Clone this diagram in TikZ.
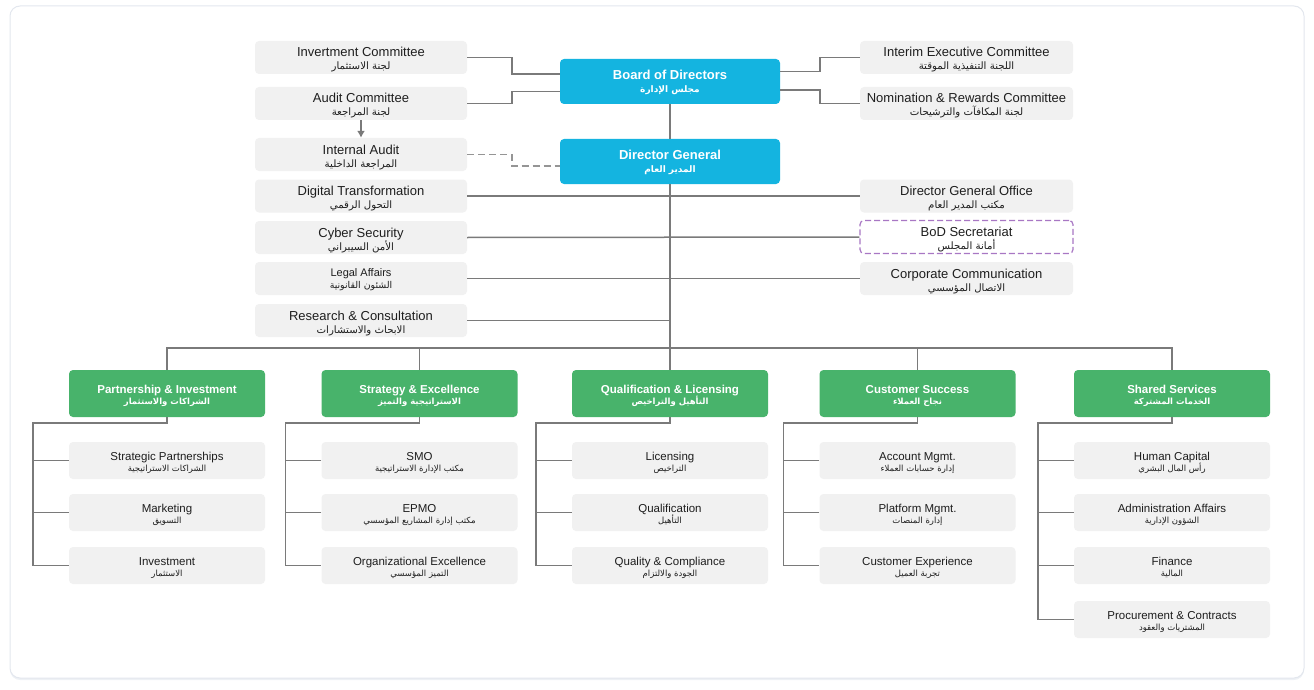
\documentclass[tikz,border=0pt]{standalone}
\usepackage{fontspec}
\setmainfont{Liberation Sans}
\newfontfamily\arabicfont[Script=Arabic]{DejaVu Sans}
\TeXXeTstate=1
\usetikzlibrary{calc,arrows.meta}
\definecolor{boxgrey}{HTML}{F1F1F1}
\definecolor{linegrey}{HTML}{7A7A7A}
\definecolor{blueb}{HTML}{14B4E0}
\definecolor{greenb}{HTML}{48B36B}
\definecolor{purp}{HTML}{A877C4}
\definecolor{cardline}{HTML}{E3E7EE}
\definecolor{txt}{HTML}{1E1E1E}
\def\arsz{10}\def\lnA{12pt}
\newcommand\tl[2]{\rule{0pt}{\lnA}#1\\\smash{\arabicfont\fontsize{\arsz}{\arsz}\selectfont #2}}
\begin{document}
\begin{tikzpicture}[x=1pt,y=-1pt,
  base/.style={align=center,inner sep=0pt,rounded corners=4pt,text=txt},
  gbox/.style={base,fill=boxgrey,minimum width=212pt,minimum height=33pt,font=\fontsize{13}{13}\selectfont\def\arsz{10.2}\def\lnA{12pt}},
  rbox/.style={gbox,minimum width=213pt},
  bbox/.style={base,fill=blueb,text=white,minimum width=220pt,minimum height=45pt,font=\bfseries\fontsize{13}{13.4}\selectfont\def\arsz{9}\def\lnA{9pt}},
  hbox/.style={base,fill=greenb,text=white,minimum width=196pt,minimum height=47pt,font=\bfseries\fontsize{11.5}{11}\selectfont\def\arsz{8.5}\def\lnA{10pt}},
  cbox/.style={base,fill=boxgrey,minimum width=196pt,minimum height=37pt,font=\fontsize{11.5}{10.8}\selectfont\def\arsz{8.5}\def\lnA{10.8pt}},
  conn/.style={draw=linegrey,line width=1.5pt},
  dconn/.style={conn,draw=linegrey!80,dash pattern=on 7pt off 4pt},
]
\useasboundingbox (0,0) rectangle (1314,690);
% card
\fill[rounded corners=10pt,fill=cardline!60] (10,7.5) rectangle (1304,680);
\draw[rounded corners=10pt,draw=cardline,fill=white,line width=1pt] (10,6) rectangle (1304,678);

% top left column
\node[gbox] (inv) at (361,57.5) {\tl{Invertment Committee}{\beginR لجنة الاستثمار\endR}};
\node[gbox] (aud) at (361,103.5) {\tl{Audit Committee}{\beginR لجنة المراجعة\endR}};
\node[gbox] (ia) at (361,154.5) {\tl{Internal Audit}{\beginR المراجعة الداخلية\endR}};
\node[gbox] (dt) at (361,196) {\tl{Digital Transformation}{\beginR التحول الرقمي\endR}};
\node[gbox] (cy) at (361,237.5) {\tl{Cyber Security}{\beginR الأمن السيبراني\endR}};
\node[gbox,font=\fontsize{11}{12.5}\selectfont\def\arsz{9.4}\def\lnA{7pt}] (la) at (361,278.5) {\tl{Legal Affairs}{\beginR الشئون القانونية\endR}};
\node[gbox] (rc) at (361,320.5) {\tl{Research \& Consultation}{\beginR الابحاث والاستشارات\endR}};

% right column
\node[rbox] (iec) at (966.5,57.5) {\tl{Interim Executive Committee}{\beginR اللجنة التنفيذية الموقتة\endR}};
\node[rbox] (nrc) at (966.5,103.5) {\tl{Nomination \& Rewards Committee}{\beginR لجنة المكافآت والترشيحات\endR}};
\node[rbox] (dgo) at (966.5,196) {\tl{Director General Office}{\beginR مكتب المدير العام\endR}};
\node[rbox,fill=white,draw=purp,line width=1.2pt,dash pattern=on 6pt off 3pt] (bods) at (966.5,237) {\tl{BoD Secretariat}{\beginR أمانة المجلس\endR}};
\node[rbox] (cc) at (966.5,278.5) {\tl{Corporate Communication}{\beginR الاتصال المؤسسي\endR}};

% blue
\node[bbox] (bod) at (670,81.5) {\tl{Board of Directors}{\beginR مجلس الإدارة\endR}};
\node[bbox] (dg) at (670,161.5) {\tl{Director General}{\beginR المدير العام\endR}};

% headers
\node[hbox] (h1) at (167,393.5) {\tl{Partnership \& Investment}{\beginR الشراكات والاستثمار\endR}};
\node[hbox] (h2) at (419.5,393.5) {\tl{Strategy \& Excellence}{\beginR الاستراتيجية والتميز\endR}};
\node[hbox] (h3) at (670,393.5) {\tl{Qualification \& Licensing}{\beginR التأهيل والتراخيص\endR}};
\node[hbox] (h4) at (917.5,393.5) {\tl{Customer Success}{\beginR نجاح العملاء\endR}};
\node[hbox] (h5) at (1172,393.5) {\tl{Shared Services}{\beginR الخدمات المشتركة\endR}};

% children
\node[cbox] (a1) at (167,460.5) {\tl{Strategic Partnerships}{\beginR الشراكات الاستراتيجية\endR}};
\node[cbox] (a2) at (167,512.5) {\tl{Marketing}{\beginR التسويق\endR}};
\node[cbox] (a3) at (167,565.5) {\tl{Investment}{\beginR الاستثمار\endR}};
\node[cbox] (b1) at (419.5,460.5) {\tl{SMO}{\beginR مكتب الإدارة الاستراتيجية\endR}};
\node[cbox] (b2) at (419.5,512.5) {\tl{EPMO}{\beginR مكتب إدارة المشاريع المؤسسي\endR}};
\node[cbox] (b3) at (419.5,565.5) {\tl{Organizational Excellence}{\beginR التميز المؤسسي\endR}};
\node[cbox] (c1) at (670,460.5) {\tl{Licensing}{\beginR التراخيص\endR}};
\node[cbox] (c2) at (670,512.5) {\tl{Qualification}{\beginR التأهيل\endR}};
\node[cbox] (c3) at (670,565.5) {\tl{Quality \& Compliance}{\beginR الجودة والالتزام\endR}};
\node[cbox] (d1) at (917.5,460.5) {\tl{Account Mgmt.}{\beginR إدارة حسابات العملاء\endR}};
\node[cbox] (d2) at (917.5,512.5) {\tl{Platform Mgmt.}{\beginR إدارة المنصات\endR}};
\node[cbox] (d3) at (917.5,565.5) {\tl{Customer Experience}{\beginR تجربة العميل\endR}};
\node[cbox] (e1) at (1172,460.5) {\tl{Human Capital}{\beginR رأس المال البشري\endR}};
\node[cbox] (e2) at (1172,512.5) {\tl{Administration Affairs}{\beginR الشؤون الإدارية\endR}};
\node[cbox] (e3) at (1172,565.5) {\tl{Finance}{\beginR المالية\endR}};
\node[cbox] (e4) at (1172,619.5) {\tl{Procurement \& Contracts}{\beginR المشتريات والعقود\endR}};

% connectors top
\draw[conn] (inv.east) -- ++(45,0) |- ($(bod.west)+(0,-7.5)$);
\draw[conn] (aud.east) -- ++(45,0) |- ($(bod.west)+(0,10)$);
\draw[conn] ($(bod.east)+(0,-10)$) -- ++(40,0) |- (iec.west);
\draw[conn] ($(bod.east)+(0,8.5)$) -- ++(40,0) |- (nrc.west);
\draw[conn,-{Latex[length=7pt,width=8pt]}] (aud.south) -- (ia.north);
\draw[dconn] (ia.east) -- ++(45,0) |- ($(dg.west)+(0,4.5)$);
\draw[conn] (bod.south) -- (dg.north);
\coordinate (bus) at (670,348);
\draw[conn] (dg.south) -- (bus);
\draw[conn] (dt.east) -- (dgo.west);
\draw[conn] (cy.east) -- (bods.west);
\draw[conn] (la.east) -- (cc.west);
\draw[conn] (rc.east) -- (rc.east -| bus);
\draw[conn] (h1.north) |- (bus) -| (h5.north);
\draw[conn] (h2.north) -- (h2.north |- bus);
\draw[conn] (h3.north) -- (bus);
\draw[conn] (h4.north) -- (h4.north |- bus);

% child trees
\foreach \h/\l in {h1/a3,h2/b3,h3/c3,h4/d3,h5/e4}{
  \draw[conn] (\h.south) -- ++(0,6) -| ($(\l.west)+(-36,0)$) -- (\l.west);
}
\foreach \c in {a1,a2,b1,b2,c1,c2,d1,d2,e1,e2,e3}{
  \draw[conn] (\c.west) -- ++(-36,0);
}
\end{tikzpicture}
\end{document}
